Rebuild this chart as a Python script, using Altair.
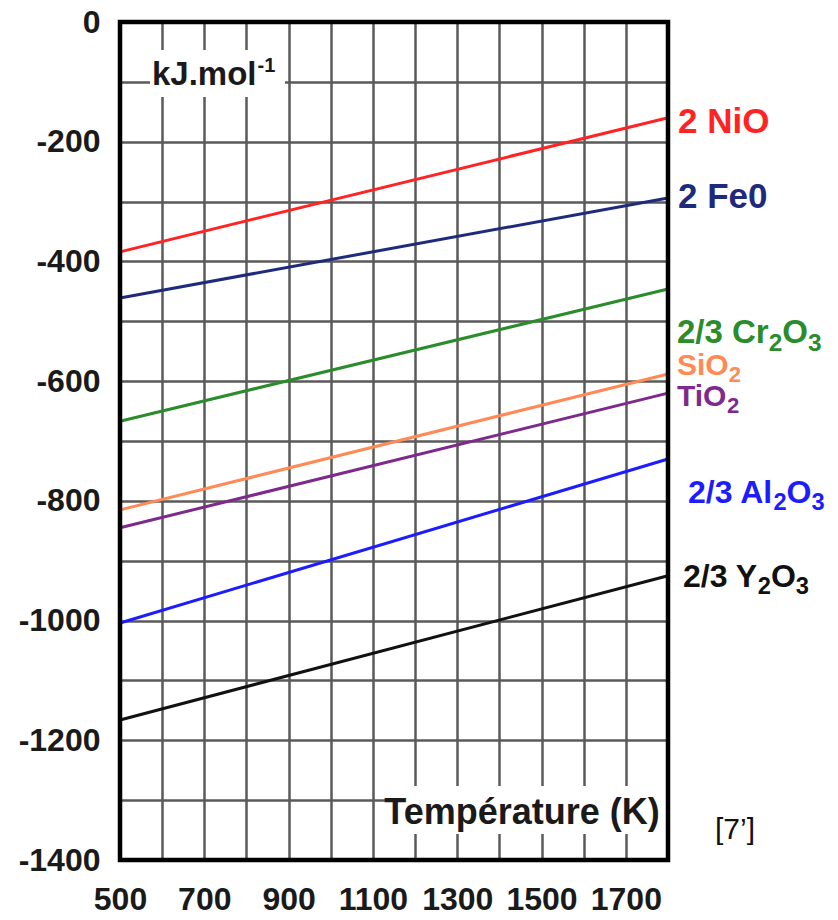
import altair as alt
import pandas as pd

# ---- data ----
series = ["2 NiO", "2 Fe0", "2/3 Cr2O3", "SiO2", "TiO2", "2/3 Al2O3", "2/3 Y2O3"]
temps = [500, 1800]
g_start = [-384, -461, -667, -815, -845, -1004, -1166]
g_end = [-160, -294, -446, -588, -620, -730, -925]
colors = ["#ff2424", "#1f2a7c", "#2b8c2b", "#ff8a55", "#7d2a8c", "#1c1cff", "#111111"]
# label pieces: (text, is_subscript)
label_parts = [
    [("2 NiO", False)],
    [("2 Fe0", False)],
    [("2/3 Cr", False), ("2", True), ("O", False), ("3", True)],
    [("SiO", False), ("2", True)],
    [("TiO", False), ("2", True)],
    [("2/3 Al", False), ("2", True), ("O", False), ("3", True)],
    [("2/3 Y", False), ("2", True), ("O", False), ("3", True)],
]
label_g = [-167, -292, -520, -574, -626, -787, -927]
label_dx = [10, 10, 9, 9, 9, 20, 15]
label_size = [35, 35, 33, 30, 30, 32, 32]
x_ticks = list(range(500, 1801, 100))
y_ticks = list(range(-1400, 1, 100))

rows = []
for s, a, b in zip(series, g_start, g_end):
    rows.append({"series": s, "T": temps[0], "G": a})
    rows.append({"series": s, "T": temps[1], "G": b})
df = pd.DataFrame(rows)

FONT = "Liberation Sans"
W, H = 548, 838

# Arial/Liberation Sans Bold advance widths (em)
WID = {"0": .556, "1": .556, "2": .556, "3": .556, "7": .556, " ": .278, "/": .278,
       "C": .722, "r": .389, "O": .778, "S": .667, "i": .278, "T": .611, "A": .722,
       "l": .278, "Y": .667, "N": .722, "F": .611, "e": .556, "k": .556, "J": .556,
       ".": .278, "m": .889, "o": .611, "-": .333}


def text_width(s, size):
    return sum(WID.get(ch, .6) for ch in s) * size


xscale = alt.Scale(domain=[500, 1800], nice=False, zero=False)
yscale = alt.Scale(domain=[-1400, 0], nice=False, zero=False)

xaxis = alt.Axis(values=x_ticks, title=None, grid=True, ticks=False, domain=False,
                 labelExpr="datum.value % 200 == 100 ? toString(datum.value) : ''",
                 labelFont=FONT, labelFontSize=32, labelFontWeight="bold",
                 labelColor="#1a1a1a", labelPadding=24, labelFlush=False)
yaxis = alt.Axis(values=y_ticks, title=None, grid=True, ticks=False, domain=False,
                 labelExpr="datum.value % 200 == 0 ? toString(datum.value) : ''",
                 labelFont=FONT, labelFontSize=32, labelFontWeight="bold",
                 labelColor="#1a1a1a", labelPadding=20, labelFlush=False)

lines = alt.Chart(df).mark_line(strokeWidth=3).encode(
    x=alt.X("T:Q", scale=xscale, axis=xaxis),
    y=alt.Y("G:Q", scale=yscale, axis=yaxis),
    color=alt.Color("series:N", scale=alt.Scale(domain=series, range=colors), legend=None),
    detail="series:N",
)

layers = [lines]
for parts, g, c, dx0, size in zip(label_parts, label_g, colors, label_dx, label_size):
    ldf = pd.DataFrame({"T": [1800], "G": [g]})
    dx = dx0
    for txt, sub in parts:
        fs = size * 0.74 if sub else size
        dy = size * 0.32 if sub else 0
        layers.append(
            alt.Chart(ldf).mark_text(align="left", baseline="middle", dx=dx, dy=dy, font=FONT,
                                     fontSize=fs, fontWeight="bold", color=c, text=txt).encode(
                x=alt.X("T:Q", scale=xscale), y=alt.Y("G:Q", scale=yscale))
        )
        dx += text_width(txt, fs)

one = pd.DataFrame({"a": [0]})
# white boxes behind the inner annotations
layers.append(alt.Chart(one).mark_rect(color="white").encode(
    x=alt.value(30), x2=alt.value(165), y=alt.value(28), y2=alt.value(75)))
layers.append(alt.Chart(one).mark_text(align="left", baseline="middle", font=FONT, fontSize=33,
                                       fontWeight="bold", color="#1a1a1a", text="kJ.mol").encode(
    x=alt.value(32), y=alt.value(53)))
layers.append(alt.Chart(one).mark_text(align="left", baseline="middle", font=FONT, fontSize=20,
                                       fontWeight="bold", color="#1a1a1a", text="-1").encode(
    x=alt.value(32 + text_width("kJ.mol", 33) + 1), y=alt.value(44)))
layers.append(alt.Chart(one).mark_rect(color="white").encode(
    x=alt.value(265), x2=alt.value(546), y=alt.value(764), y2=alt.value(812)))
layers.append(alt.Chart(one).mark_text(align="center", baseline="middle", font=FONT, fontSize=36,
                                       fontWeight="bold", color="#1a1a1a", text="Température (K)").encode(
    x=alt.value(402), y=alt.value(791)))
layers.append(alt.Chart(one).mark_text(align="left", baseline="middle", font=FONT,
                                       fontSize=30, color="#111111", text="[7’]").encode(
    x=alt.value(595), y=alt.value(808)))
# thick black frame on top
layers.append(alt.Chart(one).mark_rect(fillOpacity=0, stroke="black", strokeWidth=4.5).encode(
    x=alt.value(0), x2=alt.value(W), y=alt.value(0), y2=alt.value(H)))

chart = alt.layer(*layers).properties(
    width=W, height=H,
    autosize=alt.AutoSizeParams(type="none"),
    padding={"left": 120, "top": 22, "right": 170, "bottom": 60},
    background="white",
).configure_view(
    stroke=None
).configure_axis(
    gridColor="#5a5a5a", gridWidth=2.5, gridOpacity=1
)

chart.save("out.html", embed_options={"renderer": "svg", "actions": False})
